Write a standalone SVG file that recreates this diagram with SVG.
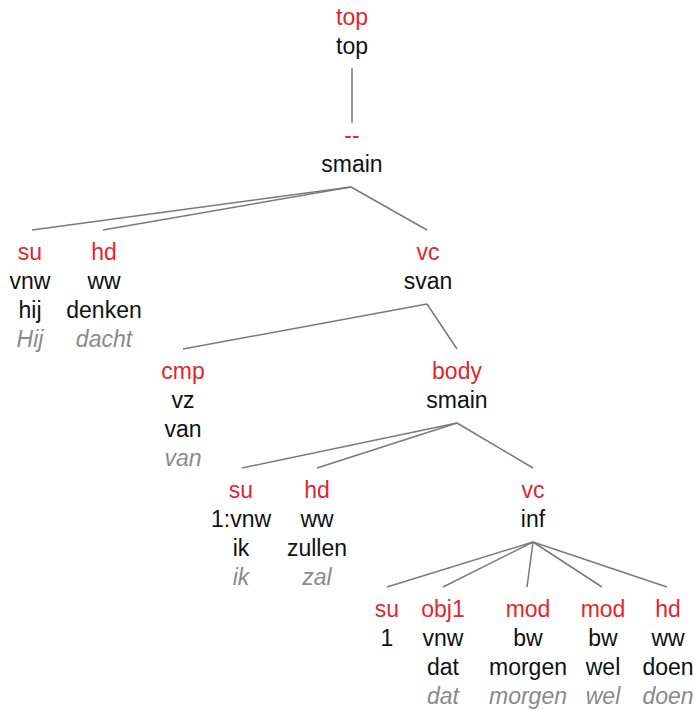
<svg xmlns="http://www.w3.org/2000/svg" width="694" height="711" viewBox="0 0 694 711">
<style>
text{font-family:"Liberation Sans",Arial,sans-serif;font-size:23px;text-anchor:middle}
.r{fill:#e3262d}
.k{fill:#111}
.g{fill:#8a8a8a;font-style:italic}
.e line{stroke:#7a7a7a;stroke-width:1.5}
</style>
<rect width="694" height="711" fill="#fff"/>
<g class="e" id="edges">
<line x1="352" y1="68" x2="352" y2="123"/>
<line x1="351" y1="187" x2="32" y2="230"/>
<line x1="351" y1="187" x2="103" y2="230"/>
<line x1="351" y1="187" x2="427" y2="230"/>
<line x1="427" y1="304" x2="183" y2="349"/>
<line x1="427" y1="304" x2="457" y2="349"/>
<line x1="457" y1="423" x2="242" y2="468"/>
<line x1="457" y1="423" x2="317" y2="468"/>
<line x1="457" y1="423" x2="533" y2="468"/>
<line x1="533" y1="542" x2="387" y2="587"/>
<line x1="533" y1="542" x2="443" y2="587"/>
<line x1="533" y1="542" x2="527" y2="587"/>
<line x1="533" y1="542" x2="602" y2="587"/>
<line x1="533" y1="542" x2="667" y2="587"/>
</g>
<g id="n_top"><text x="352" y="25" class="r">top</text><text x="352" y="54" class="k">top</text></g>
<g id="n_smain"><text x="352" y="143" class="r">--</text><text x="352" y="172" class="k">smain</text></g>
<g id="n_su1"><text x="30" y="260" class="r">su</text><text x="30" y="289" class="k">vnw</text><text x="30" y="318" class="k">hij</text><text x="30" y="347" class="g">Hij</text></g>
<g id="n_hd1"><text x="104" y="260" class="r">hd</text><text x="104" y="289" class="k">ww</text><text x="104" y="318" class="k">denken</text><text x="104" y="347" class="g">dacht</text></g>
<g id="n_vc1"><text x="428" y="260" class="r">vc</text><text x="428" y="289" class="k">svan</text></g>
<g id="n_cmp"><text x="183" y="379" class="r">cmp</text><text x="183" y="408" class="k">vz</text><text x="183" y="437" class="k">van</text><text x="183" y="466" class="g">van</text></g>
<g id="n_body"><text x="457" y="379" class="r">body</text><text x="457" y="408" class="k">smain</text></g>
<g id="n_su2"><text x="241" y="498" class="r">su</text><text x="241" y="527" class="k">1:vnw</text><text x="241" y="556" class="k">ik</text><text x="241" y="585" class="g">ik</text></g>
<g id="n_hd2"><text x="317" y="498" class="r">hd</text><text x="317" y="527" class="k">ww</text><text x="317" y="556" class="k">zullen</text><text x="317" y="585" class="g">zal</text></g>
<g id="n_vc2"><text x="533" y="498" class="r">vc</text><text x="533" y="527" class="k">inf</text></g>
<g id="n_su3"><text x="387" y="617" class="r">su</text><text x="387" y="646" class="k">1</text></g>
<g id="n_obj1"><text x="443" y="617" class="r">obj1</text><text x="443" y="646" class="k">vnw</text><text x="443" y="675" class="k">dat</text><text x="443" y="704" class="g">dat</text></g>
<g id="n_mod1"><text x="528" y="617" class="r">mod</text><text x="528" y="646" class="k">bw</text><text x="528" y="675" class="k">morgen</text><text x="528" y="704" class="g">morgen</text></g>
<g id="n_mod2"><text x="603" y="617" class="r">mod</text><text x="603" y="646" class="k">bw</text><text x="603" y="675" class="k">wel</text><text x="603" y="704" class="g">wel</text></g>
<g id="n_hd3"><text x="668" y="617" class="r">hd</text><text x="668" y="646" class="k">ww</text><text x="668" y="675" class="k">doen</text><text x="668" y="704" class="g">doen</text></g>
</svg>
